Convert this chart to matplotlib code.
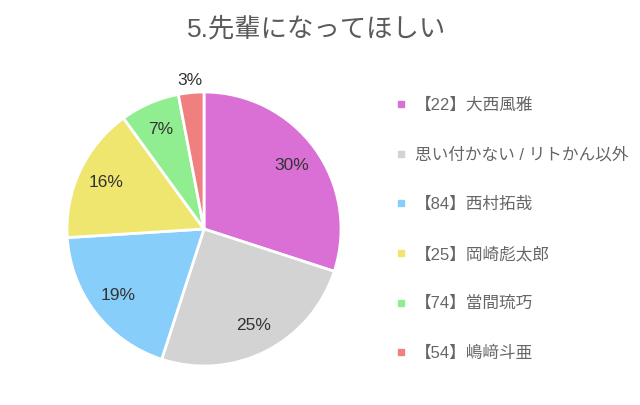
import matplotlib
matplotlib.use('Agg')
import matplotlib.pyplot as plt
import numpy as np
from matplotlib.lines import Line2D

plt.rcParams['font.family'] = ['Liberation Sans', 'Noto Sans CJK JP', 'DejaVu Sans']

# data
labels = ['【22】大西風雅', '思い付かない / リトかん以外', '【84】西村拓哉',
          '【25】岡崎彪太郎', '【74】當間琉巧', '【54】嶋﨑斗亜']
values = [30, 25, 19, 16, 7, 3]
colors = ['#DA70D6', '#D3D3D3', '#87CEFA', '#EEE66E', '#90EE90', '#F08080']
title = '5.先輩になってほしい'

fig = plt.figure(figsize=(6.4, 4.05), dpi=100)
fig.patch.set_facecolor('white')

# pie axes: centre ~(204,229) px, radius ~137 px
ax = fig.add_axes([67 / 640, (405 - 366) / 405, 274 / 640, 274 / 405])
wedges, _ = ax.pie(values, colors=colors, startangle=90, counterclock=False,
                   radius=1, wedgeprops=dict(edgecolor='white', linewidth=2))
ax.set_xlim(-1, 1)
ax.set_ylim(-1, 1)
ax.set_aspect('equal')
ax.axis('off')

total = sum(values)
for w, v in zip(wedges, values):
    mid = np.deg2rad((w.theta1 + w.theta2) / 2)
    pct = 100 * v / total
    dist = 1.09 if pct < 5 else 0.79
    ax.text(dist * np.cos(mid), dist * np.sin(mid), f'{pct:.0f}%',
            ha='center', va='center', fontsize=12.5, color='#333333',
            clip_on=False)

fig.text(0.494, 1 - 29 / 405, title, ha='center', va='center',
         fontsize=19, color='#5a5a5a')

handles = [Line2D([], [], marker='s', linestyle='', markersize=5,
                  markerfacecolor=c, markeredgecolor=c) for c in colors]
leg = fig.legend(handles, labels, loc='upper left',
                 bbox_to_anchor=(388 / 640, 1 - 91 / 405), frameon=False,
                 fontsize=12, labelspacing=2.05, handlelength=0.8,
                 handletextpad=0.4, borderaxespad=0)
for t in leg.get_texts():
    t.set_color('#666666')

fig.savefig('out.png', dpi=100, facecolor='white')
